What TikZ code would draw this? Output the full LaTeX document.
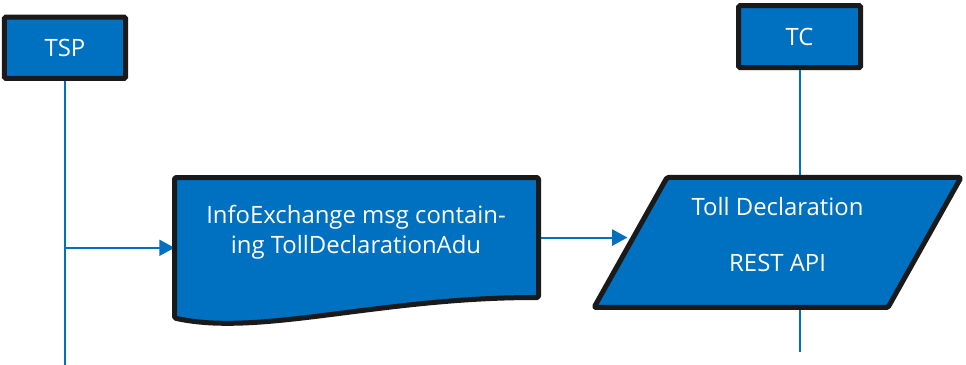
\documentclass[tikz,border=0pt]{standalone}
\usepackage{fontspec}
\setmainfont{Open Sans}
\usetikzlibrary{arrows.meta,calc}
\definecolor{flowblue}{HTML}{0070C0}
\definecolor{edgegray}{HTML}{1A1A1A}

\begin{document}
\begin{tikzpicture}[
        actor/.style={draw=edgegray, line width=1.25mm, fill=flowblue, rounded corners=1pt,
            text=white, minimum width=3.03cm, minimum height=1.53cm,
            font=\fontsize{17}{21.3}\selectfont},
        shapeline/.style={draw=edgegray, line width=1.25mm, fill=flowblue,
            rounded corners=1pt, line join=round},
        boxtext/.style={text=white, align=center, font=\fontsize{17}{21.3}\selectfont},
        life/.style={draw=flowblue, line width=0.5mm},
        flow/.style={life, -{Triangle[length=3.8mm, width=4mm]}}
    ]
                \useasboundingbox (0,0) rectangle (24.15,9.125);
                \node[actor] (tsp) at (1.625,7.93) {TSP};
                \node[actor, minimum width=3.05cm, minimum height=1.55cm] (tc) at (19.99,8.21) {TC};
                \node[minimum width=9.1cm, minimum height=3.5125cm, inner sep=0pt, outer sep=0pt] (info) at (8.9125,2.93) {};
                \coordinate (info-br) at ($(info.south east)+(0,0.5125)$);
                \coordinate (info-out) at ($(info.north east)!0.5!(info-br)$);
                \coordinate (api-bl) at (14.85,1.4375);
                \coordinate (api-tl) at (16.675,4.6875);
                \coordinate (api-tr) at (24.025,4.6875);
                \coordinate (api-br) at (22.2,1.4375);
                \coordinate (api-in) at ($(api-bl)!0.54!(api-tl)$);
                \coordinate (tsp-end) at (1.625,0);
                \coordinate (tc-end) at (19.99,0.325);
                % life lines and messages
                \draw[life] (tsp) -- (tsp-end);
                \draw[life] (tc) -- (tc |- api-tl);
                \draw[life] (tc |- api-bl) -- (tc-end);
                \draw[flow] (tsp |- info.west) -- (info.west);
                \draw[flow, shorten >=1.5mm] (info-out) -- (info-out -| api-in);
                % document and interface
                \draw[shapeline] (info.south west) -- (info.north west) -- (info.north east) -- (info-br)
                    .. controls (9.5,1.7) and (6.5,0.7) .. (info.south west) -- cycle;
                \node[boxtext] (infotext) at (8.9,3.33) {InfoExchange msg contain-\\ing TollDeclarationAdu};
                \draw[shapeline] (api-bl) -- (api-tl) -- (api-tr) -- (api-br) -- cycle;
                \node[boxtext] (api) at (19.44,3.25) {Toll Declaration\\[18.5pt]REST API};
            \end{tikzpicture}
\end{document}
